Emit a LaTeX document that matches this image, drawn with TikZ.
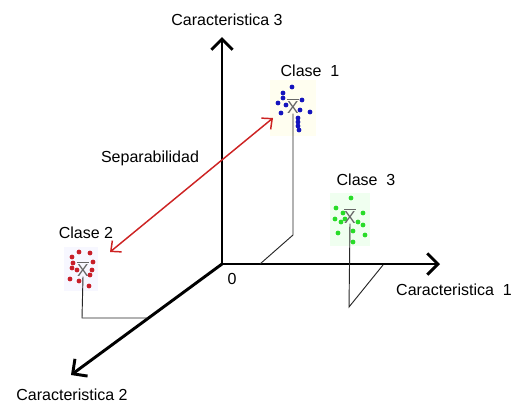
\documentclass[tikz,border=0pt]{standalone}
\usepackage{fontspec}
\setmainfont{Liberation Sans}
\usetikzlibrary{arrows.meta, positioning}
\definecolor{c1blue}{RGB}{20,20,190}
\definecolor{c2red}{RGB}{200,30,40}
\definecolor{c3green}{RGB}{40,220,40}
\definecolor{sepred}{RGB}{205,35,35}
\tikzset{
  axis/.style  ={line width=2.2pt, -{Straight Barb[length=8pt,width=16pt]}},     % feature axes
  proj/.style  ={line width=0.7pt, black!85},                                     % drop lines of the means
  sep/.style   ={line width=1.1pt, sepred, {Straight Barb[length=6pt,width=11pt]}-{Straight Barb[length=6pt,width=11pt]}},
  axlbl/.style ={font=\fontsize{12}{12}\selectfont, inner sep=0pt},
  clbl/.style  ={font=\fontsize{12}{12}\selectfont, inner sep=0pt},
  mean/.style  ={font=\fontsize{13}{13}\selectfont, text=black!60, inner sep=0pt},
}

\begin{document}
\begin{tikzpicture}[x=0.75pt, y=-0.75pt]
  \useasboundingbox (0,0) rectangle (520,408);

  % AXES
  \coordinate (o)  at (222,264);
  \coordinate (e1) at (440,264);
  \coordinate (e2) at (71,375);
  \coordinate (e3) at (222,37);
  \draw[axis] (o) -- (e1);
  \draw[axis] (o) -- (e2);
  \draw[axis] (o) -- (e3);
  \node[axlbl] (l1) at (454,290) {Caracteristica\ \ 1};
  \node[axlbl] (l2) at (72,395)  {Caracteristica\ 2};
  \node[axlbl] (l3) at (227,20)  {Caracteristica 3};
  \node[axlbl, below right=7pt and 4pt of o] (zero) {0};

  % CLASE 1
  \fill[yellow!6] (270,80) rectangle (316,136);
  \foreach \p in {(292,87),(283,93),(283,98),(278,103),(286,105),(281,113),(302,100),
                  (300,110),(310,112),(298,118),(298,122),(298,126),(299,130)}
    \fill[c1blue] \p circle (1.8pt);
  \node[mean] (m1) at (293,106) {$\overline{\hbox{X}}$};
  \node[clbl] (c1) at (310,71) {Clase\ \ 1};
  \coordinate (p1) at (293,235);
  \coordinate (f1) at (260,264);
  \draw[proj] (m1.south) -- (p1) -- (f1);

  % CLASE 2
  \fill[blue!3] (64,247) rectangle (98,291);
  \foreach \p in {(72,257),(79,252),(90,253),(73,263),(93,262),(72,268),(77,270),
                  (92,270),(90,275),(70,279),(79,281),(89,286)}
    \fill[c2red] \p circle (1.8pt);
  \node[mean] (m2) at (83,269) {$\overline{\hbox{X}}$};
  \node[clbl] (c2) at (86,233) {Clase\ 2};
  \coordinate (p2) at (82,318);
  \coordinate (f2) at (148,318);
  \draw[proj] (m2.south) -- (p2) -- (f2);

  % CLASE 3
  \fill[green!6] (330,193) rectangle (370,246);
  \foreach \p in {(351,198),(336,208),(343,213),(335,219),(341,222),(345,219),(358,222),
                  (363,213),(363,225),(338,233),(353,231),(365,235),(353,242)}
    \fill[c3green] \p circle (1.8pt);
  \node[mean] (m3) at (350,216) {$\overline{\hbox{X}}$};
  \node[clbl] (c3) at (366,180) {Clase\ \ 3};
  \coordinate (p3) at (349,307);
  \coordinate (f3) at (383,265);
  \draw[proj] (m3.south) -- (p3) -- (f3);

  % SEPARABILIDAD
  \coordinate (s2) at (110,252);
  \coordinate (s1) at (273,118);
  \draw[sep] (s2) -- (s1);
  \node[clbl] (sp) at (150,158) {Separabilidad};
\end{tikzpicture}
\end{document}
